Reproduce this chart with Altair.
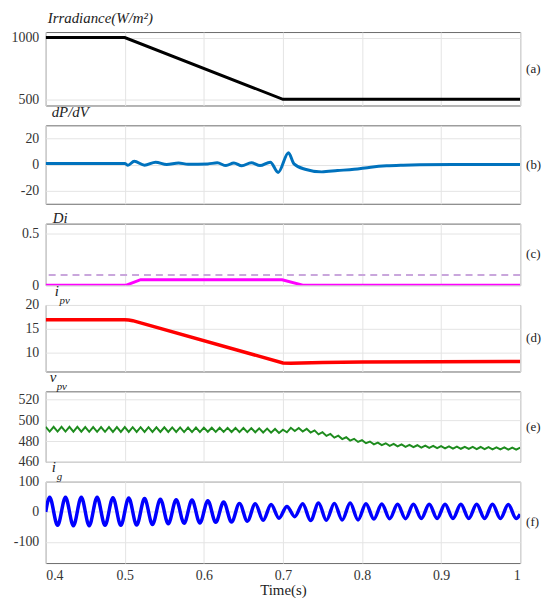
import altair as alt
import pandas as pd
import numpy as np

# ---------------- data ----------------
irr_t = [0.4, 0.5, 0.7, 1.0]
irr_v = [1000, 1000, 500, 500]

dpdv_t = [0.4, 0.5, 0.504, 0.512, 0.525, 0.539, 0.553, 0.568, 0.58, 0.605, 0.617, 0.628,
          0.638, 0.648, 0.66, 0.671, 0.684, 0.694, 0.707, 0.714, 0.728, 0.749, 0.769,
          0.79, 0.811, 0.831, 0.852, 0.873, 0.914, 1.0]
dpdv_v = [0.8, 0.8, -0.5, 2.5, -0.5, 1.8, 0.0, 1.2, 0.2, 0.5, 1.3, -0.8, 1.2, -1.0, 1.4,
          -0.8, 1.8, -6.0, 9.0, 0.5, -3.6, -5.6, -4.6, -3.6, -2.0, -1.0, -0.5, -0.2, 0.0, 0.0]

di_t = [0.4, 0.502, 0.52, 0.699, 0.725, 1.0]
di_v = [0.0, 0.0, 0.053, 0.053, 0.0, 0.0]
di_ref = [0.1]

ipv_t = [0.4, 0.5, 0.505, 0.51, 0.7, 0.71, 0.75, 0.8, 1.0]
ipv_v = [16.9, 16.9, 16.85, 16.7, 7.8, 7.75, 7.9, 8.0, 8.1]

# v_pv ripple: alternating peaks / troughs every 5 ms from 0.4 s
vpv_v = [493.8, 489.2, 493.8, 489.2, 493.7, 489.2, 493.7, 489.1, 493.7, 489.1,
         493.6, 489.0, 493.6, 489.0, 493.6, 489.0, 493.5, 488.9, 493.5, 488.9,
         493.5, 488.9, 493.4, 488.9, 493.4, 488.8, 493.4, 488.8, 493.3, 488.8,
         493.3, 488.8, 493.2, 488.8, 493.2, 488.7, 493.1, 488.7, 493.1, 488.7,
         493.0, 489.0, 492.9, 488.9, 492.9, 488.9, 492.8, 488.8, 492.7, 488.7,
         492.6, 488.6, 492.5, 488.5, 492.3, 488.3, 492.0, 488.1, 491.7, 487.8,
         491.0, 488.5, 492.8, 489.8, 492.6, 489.3, 491.8, 488.2, 490.3, 486.5,
         488.6, 485.0, 486.9, 483.3, 485.2, 481.9, 483.7, 480.5, 482.2, 479.2,
         480.9, 478.0, 479.6, 476.9, 478.6, 476.1, 477.9, 475.4, 477.3, 474.9,
         476.8, 474.5, 476.4, 474.1, 476.0, 473.8, 475.7, 473.5, 475.4, 473.2,
         475.1, 473.0, 474.9, 472.8, 474.7, 472.6, 474.5, 472.5, 474.4, 472.3,
         474.3, 472.2, 474.1, 472.1, 474.0, 471.9, 473.9, 471.8, 473.8, 471.7,
         473.6]
vpv_t = list(np.round(0.4 + 0.005 * np.arange(len(vpv_v)), 4))

# i_g: start, peaks/troughs of the 50 Hz current, end
ig_peaks = [48, 48, 48, 48, 47, 46, 44, 42, 40, 39, 37, 33, 28, 27, 24,
            18, 27, 29, 28, 29, 27, 26, 25, 25, 25, 25, 25, 25, 25, 24]
ig_troughs = [-45, -46, -46, -45, -45, -44, -42, -40, -38, -37, -35, -34, -31, -28, -21,
              -16, -29, -28, -27, -27, -24, -23, -23, -22, -22, -22, -22, -22, -22, -22]
ig_t = [0.4]
ig_v = [0]
for k in range(len(ig_peaks)):
    ig_t += [round(0.405 + 0.02 * k, 4), round(0.415 + 0.02 * k, 4)]
    ig_v += [ig_peaks[k], ig_troughs[k]]
ig_t.append(1.0)
ig_v.append(-8)

x_ticks = [0.4, 0.5, 0.6, 0.7, 0.8, 0.9, 1.0]

# ---------------- styling ----------------
W = 478
FONT = "Liberation Serif, DejaVu Serif, serif"
XS = alt.Scale(domain=[0.4, 1.0], nice=False, zero=False)


def xaxis(show):
    if show:
        return alt.Axis(values=x_ticks, labelExpr="'' + datum.value", title="Time(s)",
                        ticks=False, domain=False, labelPadding=6, titlePadding=0,
                        titleFontWeight="normal", titleFontSize=15, labelFontSize=14,
                        titleFont=FONT, titleColor="#222")
    return alt.Axis(values=x_ticks, labels=False, ticks=False, domain=False, title=None)


def text_layer(txt, x, y, size=15, italic=True, baseline="alphabetic", align="left"):
    return alt.Chart(pd.DataFrame({"s": [txt]})).mark_text(
        align=align, baseline=baseline, font=FONT, fontSize=size,
        fontStyle="italic" if italic else "normal", color="#222"
    ).encode(x=alt.value(x), y=alt.value(y), text="s:N")


def panel(t, v, color, sw, ydom, yticks, h, titles, label, show_x=False,
          interp="linear", extra=None):
    df = pd.DataFrame({"t": t, "v": v})
    line = alt.Chart(df).mark_line(color=color, strokeWidth=sw, interpolate=interp,
                                   clip=True).encode(
        x=alt.X("t:Q", scale=XS, axis=xaxis(show_x)),
        y=alt.Y("v:Q", scale=alt.Scale(domain=ydom, nice=False, zero=False),
                axis=alt.Axis(values=yticks, labelExpr="'' + datum.value", title=None,
                              ticks=False, domain=False, labelPadding=7,
                              labelFontSize=14)),
    )
    layers = []
    if extra is not None:
        layers.append(extra)
    layers.append(line)
    for (txt, x, y, size) in titles:
        layers.append(text_layer(txt, x, y, size))
    layers.append(text_layer(label, W + 6, h / 2, 13, italic=False, baseline="middle"))
    return alt.layer(*layers).properties(width=W, height=h)


pa = panel(irr_t, irr_v, "#000000", 3, [450, 1045], [500, 1000], 74,
           [("Irradiance(W/m²)", 2, -9, 15)], "(a)")
pb = panel(dpdv_t, dpdv_v, "#0072BD", 3, [-30, 30], [-20, 0, 20], 79,
           [("dP/dV", 6, -8, 15)], "(b)", interp="monotone")
ref = alt.Chart(pd.DataFrame({"r": di_ref})).mark_rule(
    color="#c9a6dc", strokeWidth=2, strokeDash=[7, 5]).encode(y="r:Q")
pc = panel(di_t, di_v, "#ff00ff", 3, [0, 0.6], [0, 0.5], 62,
           [("Di", 7, -1, 15)], "(c)", extra=ref)
pd_ = panel(ipv_t, ipv_v, "#ff0000", 3.5, [6, 20], [10, 15, 20], 67,
            [("i", 9, -9, 15), ("pv", 14, -1, 11)], "(d)")
pe = panel(vpv_t, vpv_v, "#1e8c1e", 2, [460, 528], [460, 480, 500, 520], 71,
           [("v", 4, -9, 15), ("pv", 11, -1, 11)], "(e)")
pf = panel(ig_t, ig_v, "#0000ff", 3.5, [-170, 100], [-100, 0, 100], 82,
           [("i", 6, -10, 15), ("g", 11, -2, 11)], "(f)", show_x=True, interp="monotone")

chart = alt.vconcat(pa, pb, pc, pd_, pe, pf, spacing=20, bounds="flush").properties(
    padding={"left": 2, "top": 0, "right": 0, "bottom": 0}
).configure_view(
    stroke="#6b6b6b", strokeWidth=1
).configure_axis(
    gridColor="#e4e4e4", gridWidth=1, labelFont=FONT, labelColor="#333",
    labelFontSize=14
)

chart.save("out.html", embed_options={"renderer": "svg", "actions": False})
